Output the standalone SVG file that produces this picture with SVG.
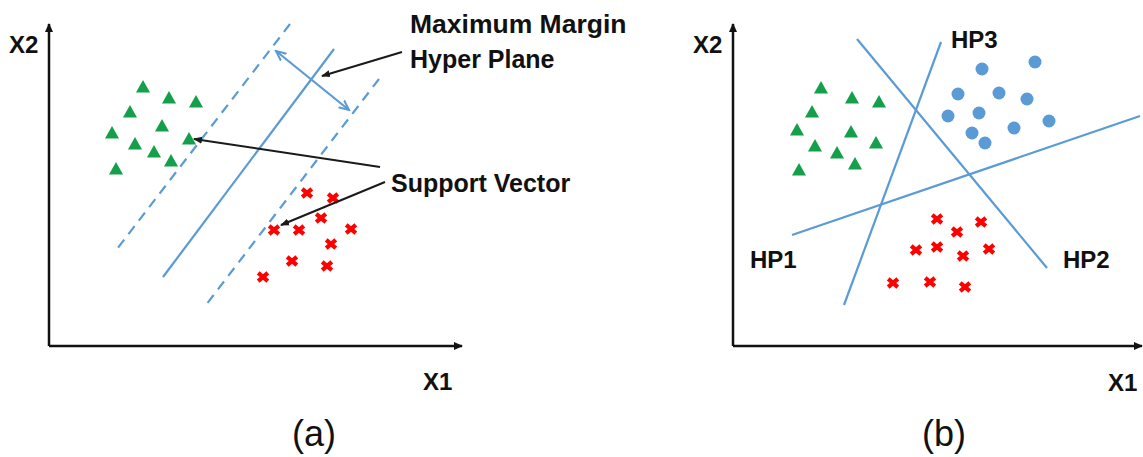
<svg xmlns="http://www.w3.org/2000/svg" width="1143" height="457" viewBox="0 0 1143 457">
<style>
.axis{stroke:#111;stroke-width:2.5;fill:none}
.hp{stroke:#5b9bd5;stroke-width:2.2;fill:none}
.dash{stroke:#5b9bd5;stroke-width:2.2;fill:none;stroke-dasharray:10 7}
.ptr{stroke:#1a1a1a;stroke-width:2;fill:none}
.lbl{font-family:"Liberation Sans",Arial,sans-serif;font-weight:bold;font-size:24px;fill:#111}
.big{font-family:"Liberation Sans",Arial,sans-serif;font-weight:bold;font-size:25px;fill:#111}
.cap{font-family:"Liberation Sans",Arial,sans-serif;font-size:36px;fill:#111}
.tri{fill:#14a04a}
.dot{fill:#5b9bd5}
.x{stroke:#ff0000;stroke-width:4.2}
</style>
<defs>
<marker id="axArr" markerWidth="10" markerHeight="10" refX="8" refY="5" orient="auto" markerUnits="userSpaceOnUse"><path d="M0,1 L9,5 L0,9 Z" fill="#111"/></marker>
<marker id="ptrArr" markerWidth="10" markerHeight="10" refX="8" refY="5" orient="auto" markerUnits="userSpaceOnUse"><path d="M0,1.5 L9,5 L0,8.5 Z" fill="#1a1a1a"/></marker>
<marker id="blueArr" markerWidth="12" markerHeight="12" refX="10" refY="6" orient="auto-start-reverse" markerUnits="userSpaceOnUse"><path d="M0,1.5 L10,6 L0,10.5" fill="none" stroke="#5b9bd5" stroke-width="2"/></marker>
<path id="t" class="tri" d="M0,-7 L7,5.5 L-7,5.5 Z"/>
<circle id="c" class="dot" r="6.5"/>
<g id="xm" class="x"><line x1="-4.8" y1="-4.2" x2="4.8" y2="4.2"/><line x1="-4.8" y1="4.2" x2="4.8" y2="-4.2"/></g>
</defs>

<!-- Panel (a) -->
<g id="axes-a">
<line class="axis" x1="49" y1="346" x2="49" y2="24" marker-end="url(#axArr)"/>
<line class="axis" x1="49" y1="346" x2="462" y2="346" marker-end="url(#axArr)"/>
<text class="lbl" x="9" y="53">X2</text>
<text class="lbl" x="423" y="390">X1</text>
</g>
<g id="hyperplanes-a">
<line class="dash" x1="290" y1="24" x2="117" y2="249"/>
<line class="hp" x1="334" y1="49" x2="163" y2="277"/>
<line class="dash" x1="379" y1="79" x2="206" y2="305"/>
<line class="hp" x1="276" y1="51" x2="349" y2="110" marker-start="url(#blueArr)" marker-end="url(#blueArr)"/>
</g>
<g id="triangles-a">
<use href="#t" x="143" y="87"/><use href="#t" x="169" y="98"/><use href="#t" x="196" y="102"/>
<use href="#t" x="130" y="112"/><use href="#t" x="162" y="126"/><use href="#t" x="112" y="133"/>
<use href="#t" x="189" y="139"/><use href="#t" x="135" y="144"/><use href="#t" x="154" y="152"/>
<use href="#t" x="171" y="161"/><use href="#t" x="116" y="169"/>
</g>
<g id="crosses-a">
<use href="#xm" x="307" y="193"/><use href="#xm" x="333" y="198"/><use href="#xm" x="321" y="218"/>
<use href="#xm" x="274" y="230"/><use href="#xm" x="299" y="230"/><use href="#xm" x="351" y="229"/>
<use href="#xm" x="331" y="244"/><use href="#xm" x="292" y="261"/><use href="#xm" x="327" y="266"/>
<use href="#xm" x="263" y="277"/>
</g>
<g id="label-mmhp">
<text class="big" x="410" y="33" style="font-size:26.5px">Maximum Margin</text>
<text class="big" x="410" y="68">Hyper Plane</text>
</g>
<g id="label-sv">
<text class="big" x="391" y="192">Support Vector</text>
</g>
<g id="connectors">
<line class="ptr" x1="402" y1="52" x2="322" y2="76" marker-end="url(#ptrArr)"/>
<line class="ptr" x1="380" y1="167" x2="194" y2="139" marker-end="url(#ptrArr)"/>
<line class="ptr" x1="385" y1="182" x2="281" y2="225" marker-end="url(#ptrArr)"/>
</g>
<text class="cap" x="292" y="446">(a)</text>

<!-- Panel (b) -->
<g id="axes-b">
<line class="axis" x1="733" y1="346" x2="733" y2="24" marker-end="url(#axArr)"/>
<line class="axis" x1="733" y1="346" x2="1142" y2="346" marker-end="url(#axArr)"/>
<text class="lbl" x="693" y="53">X2</text>
<text class="lbl" x="1108" y="391">X1</text>
</g>
<g id="hyperplanes-b">
<line class="hp" x1="857" y1="39" x2="1047" y2="268"/>
<line class="hp" x1="941" y1="42" x2="844" y2="305"/>
<line class="hp" x1="1140" y1="116" x2="792" y2="235"/>
<text class="lbl" x="951" y="48">HP3</text>
<text class="lbl" x="750" y="268">HP1</text>
<text class="lbl" x="1063" y="268">HP2</text>
</g>
<g id="triangles-b">
<use href="#t" x="821" y="88"/><use href="#t" x="852" y="98"/><use href="#t" x="879" y="102"/>
<use href="#t" x="812" y="112"/><use href="#t" x="797" y="130"/><use href="#t" x="851" y="132"/>
<use href="#t" x="876" y="143"/><use href="#t" x="815" y="146"/><use href="#t" x="837" y="153"/>
<use href="#t" x="855" y="164"/><use href="#t" x="799" y="170"/>
</g>
<g id="circles-b">
<use href="#c" x="982" y="69"/><use href="#c" x="1035" y="62"/><use href="#c" x="958" y="94"/>
<use href="#c" x="999" y="93"/><use href="#c" x="1027" y="99"/><use href="#c" x="948" y="116"/>
<use href="#c" x="979" y="113"/><use href="#c" x="1049" y="121"/><use href="#c" x="972" y="133"/>
<use href="#c" x="1014" y="128"/><use href="#c" x="985" y="143"/>
</g>
<g id="crosses-b">
<use href="#xm" x="937" y="219"/><use href="#xm" x="981" y="222"/><use href="#xm" x="957" y="232"/>
<use href="#xm" x="916" y="250"/><use href="#xm" x="937" y="247"/><use href="#xm" x="963" y="256"/>
<use href="#xm" x="989" y="249"/><use href="#xm" x="893" y="283"/><use href="#xm" x="930" y="282"/>
<use href="#xm" x="965" y="287"/>
</g>
<text class="cap" x="922" y="446">(b)</text>
</svg>
